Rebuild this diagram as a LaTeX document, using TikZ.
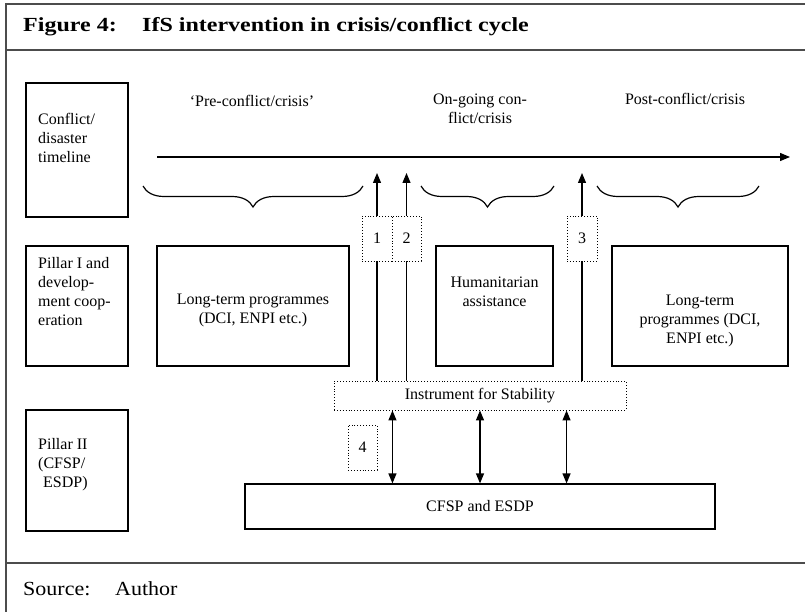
\documentclass[tikz,border=0pt]{standalone}
\usepackage{fontspec}
\setmainfont{Liberation Serif}
\usetikzlibrary{arrows.meta,decorations.pathreplacing}

\begin{document}
\begin{tikzpicture}[x = 1pt, y = -1pt,
  every node/.style = {font = \fontsize{16}{19}\selectfont, inner sep = 0pt},
  box/.style = {draw, line width = 1.2pt, fill = white},
  numbox/.style = {draw, dotted, line width = 0.9pt, fill = white, minimum width = 30pt, minimum height = 45pt},
  tip/.style = {-{Triangle[length = 10pt, width = 8pt]}, line width = 1.2pt},
  dtip/.style = {{Triangle[length = 10pt, width = 8pt]}-{Triangle[length = 10pt, width = 8pt]}, line width = 1.2pt},
  phase/.style = {decorate, decoration = {brace, mirror, amplitude = 21pt}, line width = 1.2pt},
  heading/.style = {anchor = base west, xscale = 1.2, font = \fontsize{20}{24}\selectfont\bfseries},
  foot/.style = {anchor = base west, xscale = 1.1, font = \fontsize{20}{24}\selectfont},
  frame/.style = {line width = 1.6pt, gray!60!black}]
\useasboundingbox (0,0) rectangle (805,612);
\draw [frame] (6,612) -- (6,4) -- (805,4);
\draw [frame] (6,50) -- (805,50);
\draw [frame] (6,563) -- (805,563);
\node [heading] (fignum) at (23,32) {Figure 4:};
\node [heading] (title) at (142,32) {IfS intervention in crisis/conflict cycle};
\node [foot] (source) at (23,595) {Source:};
\node [foot] (author) at (115,595) {Author};

\node [box, minimum width = 102pt, minimum height = 134pt] (timebox) at (77,150) {};
\node [anchor = west, align = left] (timetext) at (38,138) {Conflict/\\disaster\\timeline};
\node [box, minimum width = 102pt, minimum height = 120pt] (pillarone) at (77,306) {};
\node [anchor = west, align = left] (pillaronetext) at (38,292) {Pillar I and\\develop-\\ment coop-\\eration};
\node [box, minimum width = 102pt, minimum height = 121pt] (pillartwo) at (77,470.5) {};
\node [anchor = west, align = left] (pillartwotext) at (38,465) {Pillar II\\(CFSP/\\\hspace*{5pt}ESDP)};

\node (pre) at (252,101) {‘Pre-conflict/crisis’};
\node [align = center] (ongoing) at (480,108.5) {On-going con-\\flict/crisis};
\node (post) at (685,99) {Post-conflict/crisis};
\coordinate (tstart) at (157,157);
\coordinate (tend) at (790,157);
\draw [tip] (tstart) -- (tend);
\draw [phase] (143,186) -- (363,186);
\draw [phase] (421,186) -- (554,186);
\draw [phase] (597,186) -- (759,186);

\node [box, minimum width = 192pt, minimum height = 120pt] (longone) at (253,306) {};
\node [align = center] (longonetext) at (253,310) {Long-term programmes\\(DCI, ENPI etc.)};
\node [box, minimum width = 117pt, minimum height = 120pt] (human) at (494.5,306) {};
\node [align = center] (humantext) at (494.5,292) {Humanitarian\\assistance};
\node [box, minimum width = 176pt, minimum height = 120pt] (longtwo) at (700,306) {};
\node [align = center] (longtwotext) at (700,321) {Long-term\\programmes (DCI,\\ENPI etc.)};

\node [numbox] (one) at (377,238.5) {1};
\node [numbox, minimum width = 29pt] (two) at (406.5,238.5) {2};
\node [numbox] (three) at (582,238.5) {3};
\node [numbox, minimum width = 29pt] (four) at (362.5,447.5) {4};
\node [numbox, minimum width = 292pt, minimum height = 29pt] (ifs) at (480,395.5) {Instrument for Stability};
\node [box, minimum width = 470pt, minimum height = 45pt] (cfsp) at (480,506.5) {CFSP and ESDP};

\coordinate (crest) at (0,173);
\draw [line width = 1.2pt] (ifs.north -| one) -- (one.south);
\draw [tip] (one.north) -- (one |- crest);
\draw [line width = 1.2pt] (ifs.north -| two) -- (two.south);
\draw [tip] (two.north) -- (two |- crest);
\draw [line width = 1.2pt] (ifs.north -| three) -- (three.south);
\draw [tip] (three.north) -- (three |- crest);
\draw [dtip] (ifs.south -| one.east) -- (cfsp.north -| one.east);
\draw [dtip] (ifs.south) -- (cfsp.north);
\draw [dtip] (ifs.south -| three.west) -- (cfsp.north -| three.west);
\end{tikzpicture}
\end{document}
